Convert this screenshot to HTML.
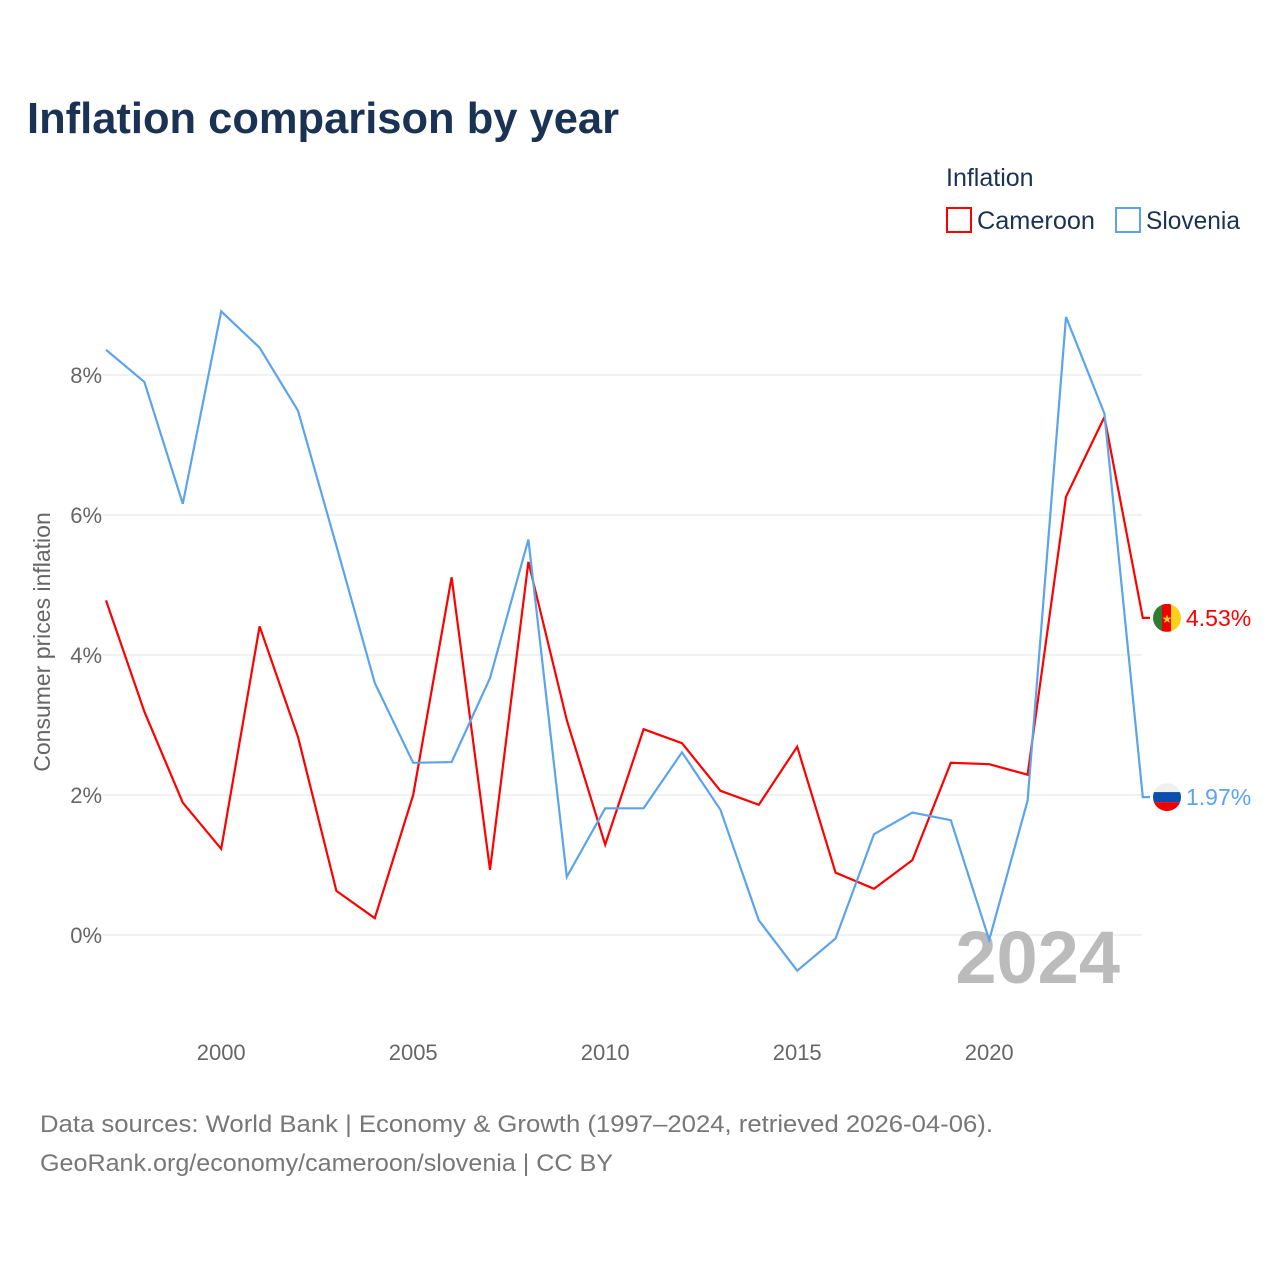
<!DOCTYPE html>
<html><head><meta charset="utf-8"><style>
body{margin:0;background:#fff;font-family:"Liberation Sans",sans-serif}
</style></head><body>
<svg id="chart" width="1280" height="1280" xmlns="http://www.w3.org/2000/svg" style="font-family:'Liberation Sans',sans-serif">
<text x="27" y="133" font-size="44" font-weight="bold" fill="#1a3354" textLength="592" lengthAdjust="spacingAndGlyphs">Inflation comparison by year</text>
<text x="946" y="186" font-size="25" fill="#1a3354">Inflation</text>
<g><rect x="947" y="208" width="24" height="24" fill="none" stroke="#ff0000" stroke-width="2"/><text x="977" y="229" font-size="25" fill="#1a3354" textLength="118" lengthAdjust="spacingAndGlyphs">Cameroon</text></g>
<g><rect x="1116" y="208" width="24" height="24" fill="none" stroke="#5ba4ec" stroke-width="2"/><text x="1146" y="229" font-size="25" fill="#1a3354" textLength="94" lengthAdjust="spacingAndGlyphs">Slovenia</text></g>
<text transform="translate(50,642) rotate(-90)" text-anchor="middle" font-size="23" fill="#666">Consumer prices inflation</text>
<g id="grid"></g><g id="xticks"></g>
<text x="1120" y="983" text-anchor="end" font-size="74" font-weight="bold" fill="#bbb">2024</text>
<g id="series"></g>
<text x="40" y="1132" font-size="24" fill="#777" textLength="953" lengthAdjust="spacingAndGlyphs">Data sources: World Bank | Economy &amp; Growth (1997–2024, retrieved 2026-04-06).</text>
<text x="40" y="1171" font-size="24" fill="#777" textLength="573" lengthAdjust="spacingAndGlyphs">GeoRank.org/economy/cameroon/slovenia | CC BY</text>
</svg>
<script>
const years=[1997,1998,1999,2000,2001,2002,2003,2004,2005,2006,2007,2008,2009,2010,2011,2012,2013,2014,2015,2016,2017,2018,2019,2020,2021,2022,2023,2024];
const cameroon=[4.78,3.19,1.89,1.23,4.41,2.83,0.63,0.24,2.0,5.11,0.93,5.33,3.07,1.29,2.94,2.74,2.06,1.86,2.69,0.89,0.66,1.07,2.46,2.44,2.29,6.26,7.4,4.53];
const slovenia=[8.36,7.9,6.16,8.91,8.39,7.49,5.56,3.6,2.46,2.47,3.67,5.65,0.83,1.81,1.81,2.61,1.79,0.21,-0.51,-0.05,1.44,1.75,1.64,-0.07,1.92,8.83,7.45,1.97];
const yTicks=[0,2,4,6,8];
const xTicks=[2000,2005,2010,2015,2020];
const NS="http://www.w3.org/2000/svg";
const X=y=>106+(y-1997)*38.4;
const Y=v=>935-v*70;
const grid=document.getElementById('grid');
yTicks.forEach(t=>{
 const l=document.createElementNS(NS,'line');
 l.setAttribute('x1',90);l.setAttribute('x2',1142);l.setAttribute('y1',Y(t));l.setAttribute('y2',Y(t));
 l.setAttribute('stroke','#e6e6e6');
 
 
 grid.appendChild(l);
 const tx=document.createElementNS(NS,'text');
 tx.setAttribute('x',102);tx.setAttribute('y',Y(t)+8);tx.setAttribute('text-anchor','end');
 tx.setAttribute('font-size','22');tx.setAttribute('fill','#666');tx.textContent=t+'%';
 
 
 grid.appendChild(tx);
});
const xt=document.getElementById('xticks');
xTicks.forEach(t=>{
 const tx=document.createElementNS(NS,'text');
 tx.setAttribute('x',X(t));tx.setAttribute('y',1060);tx.setAttribute('text-anchor','middle');
 tx.setAttribute('font-size','22');tx.setAttribute('fill','#666');tx.textContent=t;
 
 
 xt.appendChild(tx);
});
const sg=document.getElementById('series');
function draw(vals,color,name,flag){
 let d=vals.map((v,i)=>(i?'L':'M')+X(years[i])+','+Y(vals[i])).join(' ');
 const last=vals[vals.length-1];
 d+=' L1150,'+Y(last);
 const p=document.createElementNS(NS,'path');
 p.setAttribute('d',d);p.setAttribute('fill','none');p.setAttribute('stroke',color);p.setAttribute('stroke-width','2.2');
 
 
 sg.appendChild(p);
 const g=document.createElementNS(NS,'g');
 
 
 g.innerHTML=flag(Y(last))+`<text x="1186" y="${Y(last)+8}" font-size="23" fill="${color}">${last.toFixed(2)}%</text>`;
 sg.appendChild(g);
}
draw(cameroon,'#ff0000','cameroon',y=>`<clipPath id="cc"><circle cx="1167" cy="${y}" r="14"/></clipPath><g clip-path="url(#cc)"><rect x="1153" y="${y-14}" width="10" height="28" fill="#2e7d32"/><rect x="1162" y="${y-14}" width="10" height="28" fill="#e00"/><rect x="1171" y="${y-14}" width="10" height="28" fill="#fcd116"/></g><text x="1167" y="${y+5}" font-size="12" text-anchor="middle" fill="#fcd116">★</text>`);
draw(slovenia,'#5ba4ec','slovenia',y=>`<clipPath id="cs"><circle cx="1167" cy="${y}" r="14"/></clipPath><g clip-path="url(#cs)"><rect x="1153" y="${y-14}" width="28" height="10" fill="#f0f0f0"/><rect x="1153" y="${y-5}" width="28" height="10" fill="#0a4fb0"/><rect x="1153" y="${y+5}" width="28" height="10" fill="#e00"/></g>`);
</script>
</body></html>
